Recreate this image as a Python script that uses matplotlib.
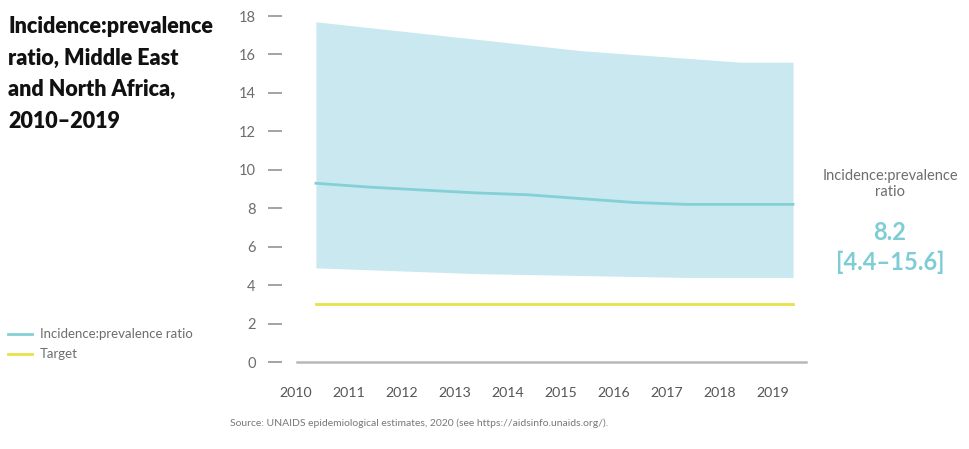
import matplotlib
matplotlib.use("Agg")
import matplotlib.pyplot as plt
import matplotlib.transforms as mtransforms

years = [2010, 2011, 2012, 2013, 2014, 2015, 2016, 2017, 2018, 2019]
ratio = [9.3, 9.1, 8.95, 8.8, 8.7, 8.5, 8.3, 8.2, 8.2, 8.2]
upper = [17.7, 17.4, 17.1, 16.8, 16.5, 16.2, 16.0, 15.8, 15.6, 15.6]
lower = [4.9, 4.8, 4.7, 4.6, 4.55, 4.5, 4.45, 4.4, 4.4, 4.4]
target = [3, 3, 3, 3, 3, 3, 3, 3, 3, 3]
yticks = [0, 2, 4, 6, 8, 10, 12, 14, 16, 18]
title_lines = ["Incidence:prevalence", "ratio, Middle East", "and North Africa,", "2010\u20132019"]

FILL = "#c9e8f0"
LINE = "#84d0d6"
TARGET = "#e9e04a"
GREY = "#6d6d6d"

W, H = 970, 449
fig = plt.figure(figsize=(W / 100, H / 100), dpi=100)
fig.patch.set_facecolor("white")

left, right, bottom, top = 282, 810, 362, 10
ax = fig.add_axes([left / W, 1 - bottom / H, (right - left) / W, (bottom - top) / H])
ax.set_xlim(2009.36, 2019.32)
ax.set_ylim(0, (bottom - top) / 19.22)

ax.fill_between(years, lower, upper, color=FILL, lw=0, zorder=1)
ax.plot(years, ratio, color=LINE, lw=2.0, zorder=3)
ax.plot(years, target, color=TARGET, lw=2.0, zorder=3)
ax.plot([2009.64, 2019.25], [0, 0], color="#b8b8b8", lw=1.8, clip_on=False, zorder=2)

for s in ax.spines.values():
    s.set_visible(False)
ax.set_facecolor("none")

ax.set_yticks(yticks)
ax.set_yticklabels([str(v) for v in yticks], fontfamily="Lato", fontsize=10.5, color=GREY)
ax.tick_params(axis="y", length=10, width=1.1, color="#8a8a8a", pad=9, direction="out")

ax.set_xticks(years)
ax.set_xticklabels([str(y) for y in years], fontfamily="Lato", fontsize=10.2, color="#555555")
ax.tick_params(axis="x", length=0, pad=18)
offset = mtransforms.ScaledTranslation(-20 / 100, 0, fig.dpi_scale_trans)
for lab in ax.get_xticklabels():
    lab.set_transform(lab.get_transform() + offset)

# Title
for i, line in enumerate(title_lines):
    fig.text(8 / W, 1 - (33 + i * 31.6) / H, line, ha="left", va="baseline",
             fontsize=15.5, fontweight="heavy", fontfamily="Lato", color="#111111")

# Legend
fig.add_artist(plt.Line2D([8 / W, 32 / W], [1 - 334 / H, 1 - 334 / H], color=LINE, lw=2))
fig.text(40 / W, 1 - 334 / H, "Incidence:prevalence ratio", ha="left", va="center",
         fontsize=9.5, color=GREY, fontfamily="Lato")
fig.add_artist(plt.Line2D([8 / W, 32 / W], [1 - 354 / H, 1 - 354 / H], color=TARGET, lw=2))
fig.text(40 / W, 1 - 354 / H, "Target", ha="left", va="center",
         fontsize=9.5, color=GREY, fontfamily="Lato")

# Right annotation
fig.text(890 / W, 1 - 184 / H, "Incidence:prevalence\nratio", ha="center", va="center",
         fontsize=10.5, color=GREY, fontfamily="Lato", linespacing=1.1)
fig.text(890 / W, 1 - 232 / H, "8.2", ha="center", va="center",
         fontsize=17, color="#7fcdd4", fontweight="bold", fontfamily="Lato")
fig.text(890 / W, 1 - 262 / H, "[4.4\u201315.6]", ha="center", va="center",
         fontsize=17, color="#7fcdd4", fontweight="bold", fontfamily="Lato")

# Source
fig.text(230 / W, 1 - 423 / H,
         "Source: UNAIDS epidemiological estimates, 2020 (see https://aidsinfo.unaids.org/).",
         ha="left", va="center", fontsize=7.5, color="#777777", fontfamily="Lato")

fig.savefig("out.png", dpi=100, facecolor="white")
